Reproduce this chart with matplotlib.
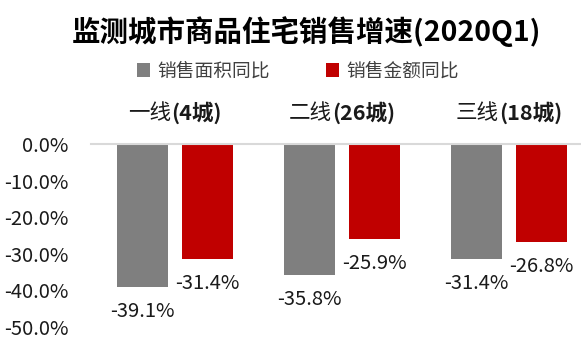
import matplotlib
matplotlib.use("Agg")
import matplotlib.pyplot as plt
import numpy as np

plt.rcParams['font.family'] = ['Noto Sans CJK SC', 'DejaVu Sans']

tiers = ["一线", "二线", "三线"]
tier_counts = ["(4城)", "(26城)", "(18城)"]
area_yoy = [-39.1, -35.8, -31.4]
amount_yoy = [-31.4, -25.9, -26.8]
series_names = ["销售面积同比", "销售金额同比"]
yticks = [0, -10, -20, -30, -40, -50]
title = "监测城市商品住宅销售增速(2020Q1)"

gray = "#7F7F7F"
red = "#C00000"

fig = plt.figure(figsize=(5.81, 3.44), dpi=100)
ax = fig.add_axes([91/581, 1-327/344, 1-91/581, (327-144)/344])

x = np.arange(len(tiers))
w = 0.305
off = 0.195
b1 = ax.bar(x - off, area_yoy, width=w, color=gray, label=series_names[0])
b2 = ax.bar(x + off, amount_yoy, width=w, color=red, label=series_names[1])

for bars, vals in ((b1, area_yoy), (b2, amount_yoy)):
    for r, v in zip(bars, vals):
        ax.annotate(f"{v:.1f}%", (r.get_x() + r.get_width()/2, v),
                    xytext=(0, -10), textcoords="offset points",
                    ha="center", va="top", fontsize=14.5, color="#1a1a1a")

ax.set_ylim(-50, 0)
ax.set_xlim(-0.503, 2.431)
ax.set_yticks(yticks)
ax.set_yticklabels([f"{t:.1f}%" for t in yticks], fontsize=14.5, color="#1a1a1a")
ax.set_xticks([])
ax.tick_params(axis="y", length=0, pad=16)
for s in ("left", "right", "bottom"):
    ax.spines[s].set_visible(False)
ax.spines["top"].set_color("#D9D9D9")
ax.spines["top"].set_linewidth(1.5)

# category labels above the axis
fig.canvas.draw()
renderer = fig.canvas.get_renderer()
cat_fs = 15.5
for i, (t, c) in enumerate(zip(tiers, tier_counts)):
    t1 = fig.text(0, 0, t, fontsize=cat_fs)
    t2 = fig.text(0, 0, c, fontsize=cat_fs, fontweight="bold")
    w1 = t1.get_window_extent(renderer).width
    w2 = t2.get_window_extent(renderer).width
    t1.remove(); t2.remove()
    cx = ax.transData.transform((x[i], 0))[0]
    left = cx - (w1 + w2) / 2
    y = 344 - 113
    fig.text(left / 581, y / 344, t, fontsize=cat_fs, ha="left", va="center", color="#1a1a1a")
    fig.text((left + w1) / 581, y / 344, c, fontsize=cat_fs, fontweight="bold",
             ha="left", va="center", color="#1a1a1a")

fig.text(306/581, 1 - 32/344, title, fontsize=20.5, fontweight="bold",
         ha="center", va="center", color="black")

leg = fig.legend(handles=[b1, b2], labels=series_names, loc="center",
                 bbox_to_anchor=(298/581, 1 - 71/344), ncol=2, frameon=False,
                 fontsize=13.5, handlelength=0.7, handleheight=0.7,
                 handletextpad=0.4, columnspacing=3.0)
for t in leg.get_texts():
    t.set_color("#404040")

fig.savefig("out.png", dpi=100)
